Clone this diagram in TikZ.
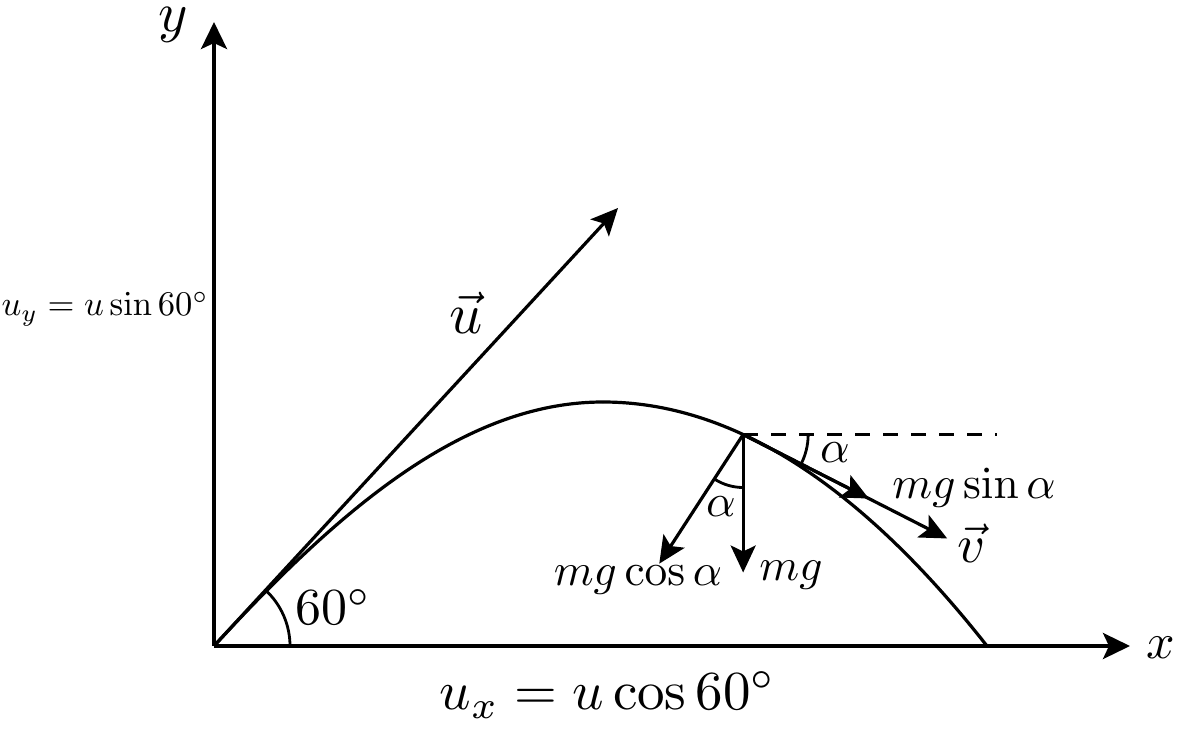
\documentclass[tikz,border=0pt]{standalone}
\usetikzlibrary{arrows.meta,calc}
\begin{document}
\begin{tikzpicture}[x=0.5pt,y=0.5pt,
  axis/.style={line width=1.9pt,-{Stealth[length=13.5pt,width=13pt,inset=3pt]}},
  vec/.style={line width=1.6pt,-{Stealth[length=13.5pt,width=12.5pt,inset=3pt]}},
  curve/.style={line width=1.6pt},
  anglearc/.style={line width=1.4pt},
  guide/.style={line width=1.5pt,dash pattern=on 7.5pt off 6.5pt},
  lbl/.style={inner sep=0pt},
]
\path[use as bounding box] (0,0) rectangle (1200,736);
\coordinate (O) at (214,90);
\coordinate (Ytip) at (214,714);
\coordinate (Xtip) at (1130,90);
\coordinate (Utip) at (618,528);
\coordinate (Top) at (603,334);
\coordinate (Land) at (987,90);
\coordinate (Xd) at (997,0);

% trajectory
\draw[curve] (O) .. controls (339,226) and (464,334) .. (Top);
\draw[curve] (Top) .. controls (731,334) and (859,252.7) .. (Land) coordinate[pos=0.365] (P);

% axes and initial velocity
\draw[axis] (O) -- (Ytip);
\draw[axis] (O) -- (Xtip);
\draw[vec] (O) -- (Utip);

% points at P
\coordinate (Dend) at (P -| Xd);
\coordinate (Vtip) at ([shift={(-27:229)}]P);
\coordinate (Stip) at ([shift={(-27:141)}]P);
\coordinate (Gtip) at ([shift={(0,-138)}]P);
\coordinate (Ctip) at ([shift={(237:154)}]P);

\draw[guide] (P) -- (Dend);
\draw[vec] (P) -- (Vtip);
\draw[vec] (P) -- (Stip);
\draw[vec] (P) -- (Gtip);
\draw[vec] (P) -- (Ctip);

% angle arcs
\draw[anglearc] ([shift={(0:38pt)}]O) arc[start angle=0,end angle=47.5,radius=38pt];
\draw[anglearc] ([shift={(0:32.5pt)}]P) arc[start angle=0,end angle=-27,radius=32.5pt];
\draw[anglearc] ([shift={(270:26.5pt)}]P) arc[start angle=270,end angle=237,radius=26.5pt];

% labels
\node[lbl,scale=2.8] (ylab) at (173,711) {$y$};
\node[lbl,scale=2.5] (xlab) at (1161,88.5) {$x$};
\node[lbl,scale=2.9] (ulab) at (466,423) {$\vec{u}$};
\node[lbl,scale=1.73] (uylab) at (105,427) {$u_y = u\sin 60^\circ$};
\node[lbl,scale=2.6] (anglab) at (333,129) {$60^\circ$};
\node[lbl,scale=2.75] (uxlab) at (608,41) {$u_x = u\cos 60^\circ$};
\node[lbl,scale=2.27] (mgcos) at (638,156) {$mg\cos\alpha$};
\node[lbl,scale=2.27] (mg) at (791,161) {$mg$};
\node[lbl,scale=2.27] (mgsin) at (974,248) {$mg\sin\alpha$};
\node[lbl,scale=2.7] (vlab) at (972,193) {$\vec{v}$};
\node[lbl,scale=2.3] (a1) at (835,283) {$\alpha$};
\node[lbl,scale=2.3] (a2) at (721,229) {$\alpha$};
\end{tikzpicture}
\end{document}
